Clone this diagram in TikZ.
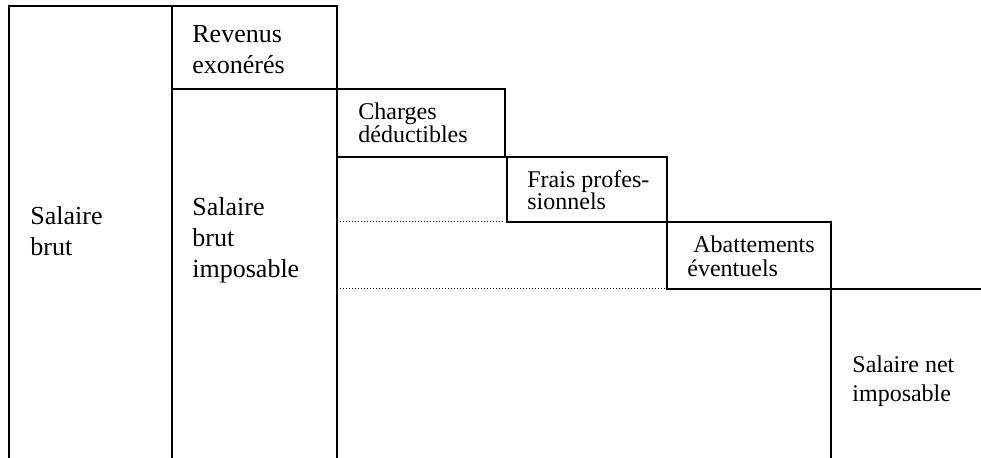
\documentclass[tikz,border=0pt]{standalone}
\usepackage{fontspec}
\setmainfont{Liberation Serif}
\begin{document}
\begin{tikzpicture}[x=0.5pt,y=-0.5pt,
  frame/.style={line width=0.95pt, line cap=rect},
  dotline/.style={line width=0.5pt, dash pattern=on 0.5pt off 1pt},
  lab/.style={anchor=base west, inner sep=0pt, align=left},
  biglab/.style={lab, font=\fontsize{13}{15.5}\selectfont},
  smalllab/.style={lab, font=\fontsize{12}{11.5}\selectfont}]
\useasboundingbox (0,0) rectangle (981,458);
% frames
\draw[frame] (9,458) -- (9,6) -- (337,6) -- (337,458);
\draw[frame] (172,6) -- (172,458);
\draw[frame] (172,89) -- (505,89) -- (505,157);
\draw[frame] (337,157) -- (667,157) -- (667,289);
\draw[frame] (507,157) -- (507,222) -- (667,222);
\draw[frame] (667,222) -- (831,222) -- (831,458);
\draw[frame] (667,289) -- (981,289);
\draw[dotline] (340,222) -- (505,222);
\draw[dotline] (340,289) -- (665,289);
% labels (base anchor = baseline of last line)
\node[biglab] (rev) at (192,74) {Revenus\\exonérés};
\node[biglab] (sb) at (30,256) {Salaire\\brut};
\node[biglab] (sbi) at (192,278) {Salaire\\brut\\imposable};
\node[smalllab] (ch) at (358,143) {Charges\\déductibles};
\node[smalllab, font=\fontsize{12}{11}\selectfont] (fp) at (527,210) {Frais profes-\\sionnels};
\node[smalllab, font=\fontsize{12}{12}\selectfont] (ab) at (687,277) {\hspace{3pt}Abattements\\éventuels};
\node[smalllab, font=\fontsize{12}{14.5}\selectfont] (sn) at (852,402) {Salaire net\\imposable};
\end{tikzpicture}
\end{document}
